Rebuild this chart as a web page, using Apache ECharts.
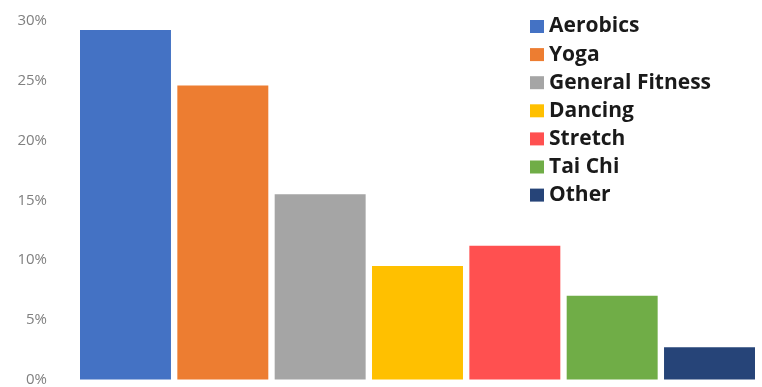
<!DOCTYPE html>
<html>
<head>
<meta charset="utf-8">
<script src="https://cdn.jsdelivr.net/npm/echarts@6/dist/echarts.min.js"></script>
<style>
  html, body { margin: 0; padding: 0; background: #fff; }
  #chart { width: 762px; height: 387px; }
</style>
</head>
<body>
<div id="chart"></div>
<script>
// 数据
const names = ["Aerobics", "Yoga", "General Fitness", "Dancing", "Stretch", "Tai Chi", "Other"];
const shares = [0.2925, 0.246, 0.155, 0.095, 0.112, 0.07, 0.027];
const colors = ["#4472C4", "#ED7D31", "#A5A5A5", "#FFC000", "#FF5050", "#70AD47", "#264478"];
const yTicks = [0, 0.05, 0.1, 0.15, 0.2, 0.25, 0.3];

const chart = echarts.init(document.getElementById("chart"));

// 每个类别一个系列, 共用一个x轴类目
let series = [];
names.forEach((n, i) => {
  series.push({
    name: n,
    type: "bar",
    barGap: "7%",
    barCategoryGap: 0,
    itemStyle: { color: colors[i] },
    data: [shares[i]]
  });
});

const option = {
  animation: false,
  grid: { left: 80, right: 7, top: 21, bottom: 7 },
  legend: {
    orient: "vertical",
    left: 525,
    top: 11,
    itemWidth: 14,
    itemHeight: 13,
    itemGap: 7.1,
    icon: "rect",
    textStyle: {
      fontFamily: "Open Sans",
      fontWeight: "bold",
      fontSize: 21,
      lineHeight: 20,
      color: "#1a1a1a"
    },
    data: names
  },
  xAxis: {
    type: "category",
    data: [""],
    axisLine: { show: false },
    axisTick: { show: false },
    axisLabel: { show: false }
  },
  yAxis: {
    type: "value",
    min: yTicks[0],
    max: yTicks[yTicks.length - 1],
    interval: 0.05,
    splitLine: { show: false },
    axisLine: { show: false },
    axisTick: { show: false },
    axisLabel: {
      margin: 33,
      color: "#808080",
      fontSize: 15,
      fontFamily: "Open Sans",
      formatter: v => Math.round(v * 100) + "%"
    }
  },
  series: series
};

chart.setOption(option);
</script>
</body>
</html>
